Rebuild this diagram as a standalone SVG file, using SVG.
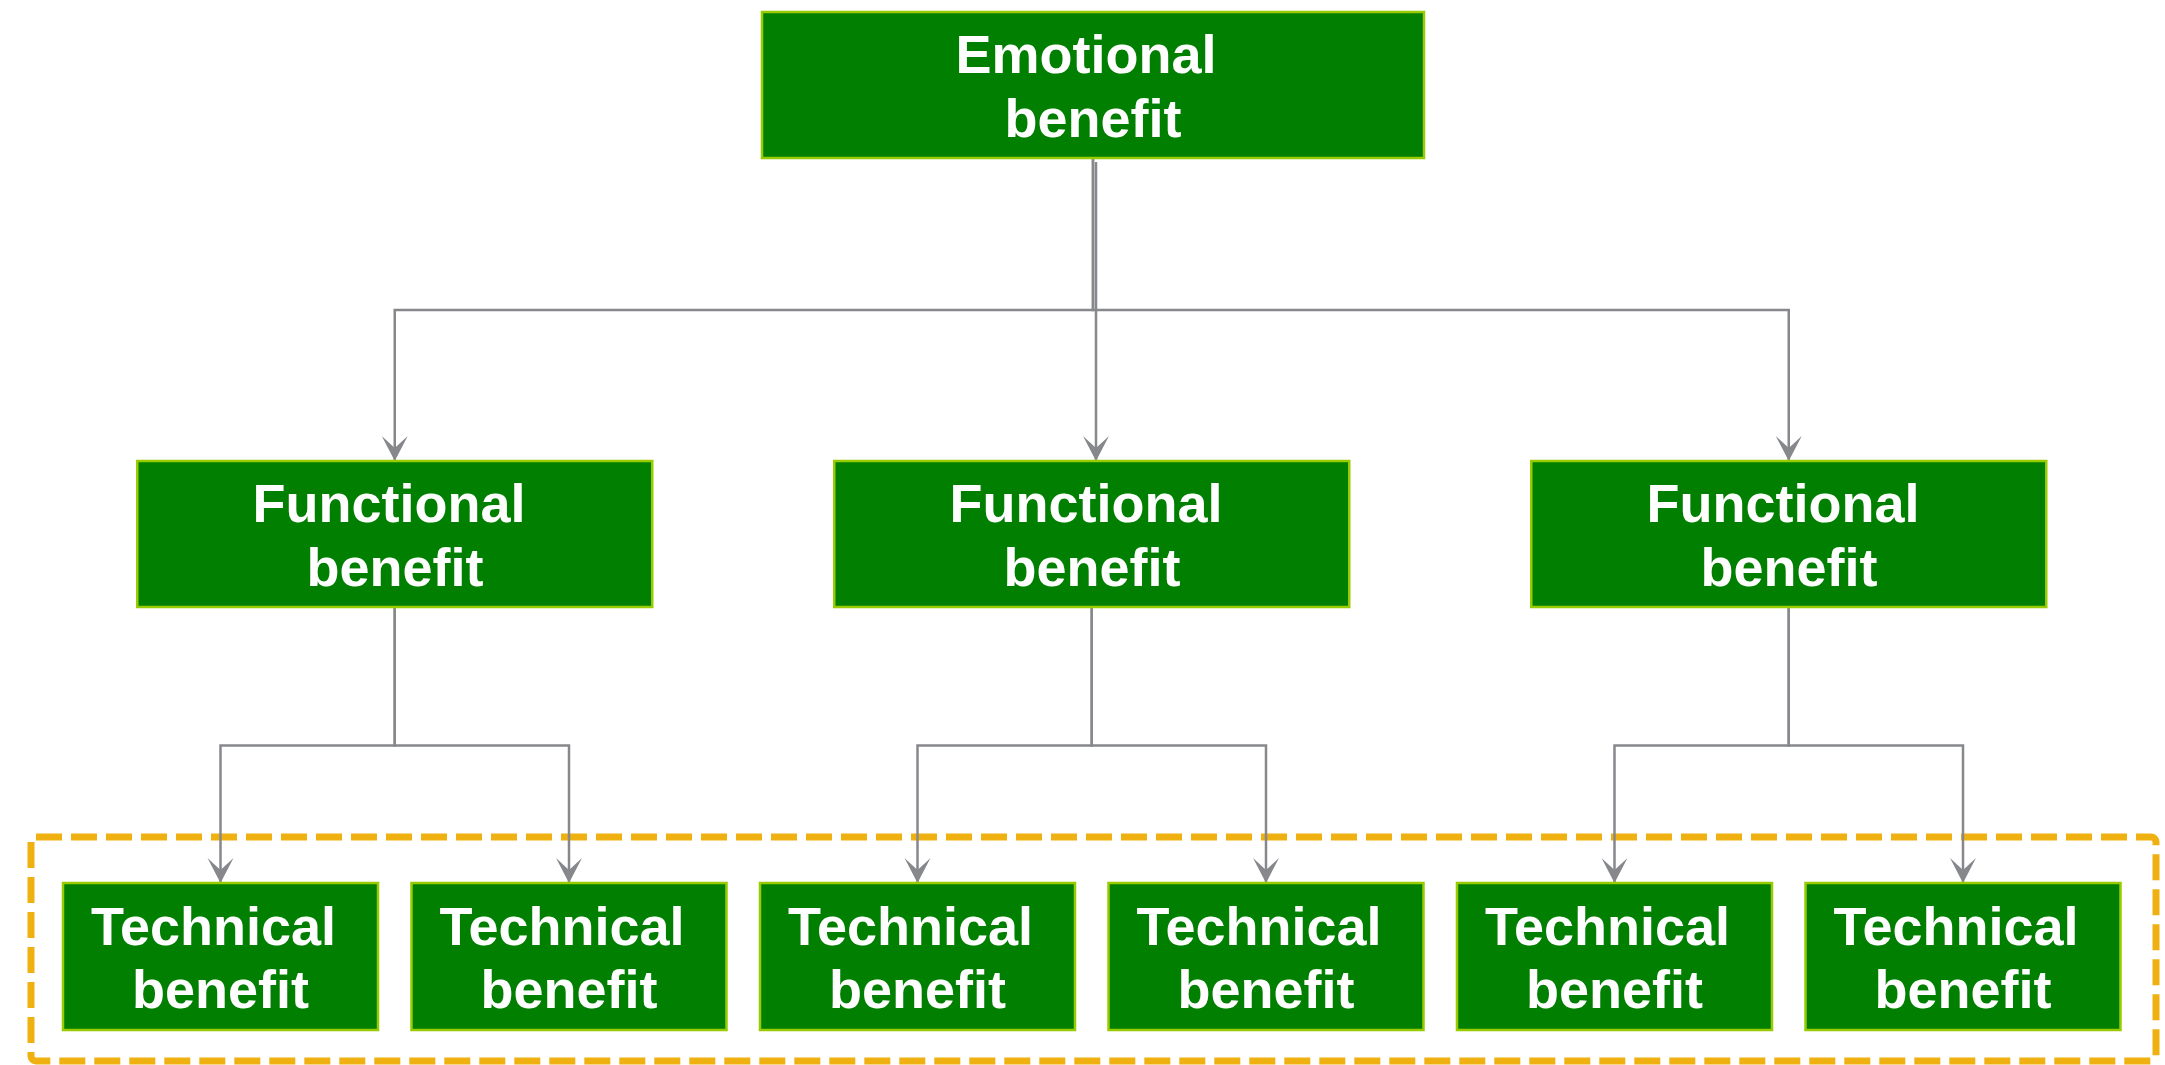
<svg xmlns="http://www.w3.org/2000/svg" width="2165" height="1065" viewBox="0 0 2165 1065">
  <style>
    .box { fill: #007f00; stroke: #99cc00; stroke-width: 2.5; }
    .lbl { fill: #ffffff; font-family: "Liberation Sans", Arial, sans-serif; font-weight: bold; font-size: 54px; text-anchor: middle; }
    .link { fill: none; stroke: #87888c; stroke-width: 2.5; }
    .group { fill: none; stroke: #eeb111; stroke-width: 7; stroke-dasharray: 26 9; }
  </style>
  <defs>
    <!-- barbed arrowhead, tip at the end of the path -->
    <marker id="arrow" markerUnits="userSpaceOnUse" markerWidth="30" markerHeight="30" viewBox="-27 -15 30 30" refX="0" refY="0" orient="auto">
      <path d="M0 0 L-25 -13 L-13 0 L-25 13 Z" fill="#87888c"/>
    </marker>
  </defs>

  <!-- dashed frame around the technical level -->
  <rect class="group" x="31" y="837" width="2125" height="224" rx="5"/>

  <!-- connectors -->
  <g id="connectors">
    <path class="link" d="M1093 158 V310 H394.75 V461" marker-end="url(#arrow)"/>
    <path class="link" d="M1093 158 V310 H1788.75 V461" marker-end="url(#arrow)"/>
    <path class="link" d="M1096 162 V461" marker-end="url(#arrow)"/>

    <path class="link" d="M394.75 607 V745.5 H220.5 V883" marker-end="url(#arrow)"/>
    <path class="link" d="M394.75 607 V745.5 H569 V883" marker-end="url(#arrow)"/>
    <path class="link" d="M1091.75 607 V745.5 H917.5 V883" marker-end="url(#arrow)"/>
    <path class="link" d="M1091.75 607 V745.5 H1266 V883" marker-end="url(#arrow)"/>
    <path class="link" d="M1788.75 607 V745.5 H1614.5 V883" marker-end="url(#arrow)"/>
    <path class="link" d="M1788.75 607 V745.5 H1963 V883" marker-end="url(#arrow)"/>
  </g>

  <!-- top level -->
  <g id="emotional">
    <rect class="box" x="762" y="12" width="662" height="146"/>
    <text class="lbl" x="1086" y="73">Emotional</text>
    <text class="lbl" x="1093" y="137">benefit</text>
  </g>

  <!-- middle level -->
  <g id="functional-1">
    <rect class="box" x="137.25" y="461" width="515" height="146"/>
    <text class="lbl" x="389" y="522">Functional</text>
    <text class="lbl" x="395" y="586">benefit</text>
  </g>
  <g id="functional-2">
    <rect class="box" x="834.25" y="461" width="515" height="146"/>
    <text class="lbl" x="1086" y="522">Functional</text>
    <text class="lbl" x="1092" y="586">benefit</text>
  </g>
  <g id="functional-3">
    <rect class="box" x="1531.25" y="461" width="515" height="146"/>
    <text class="lbl" x="1783" y="522">Functional</text>
    <text class="lbl" x="1789" y="586">benefit</text>
  </g>

  <!-- bottom level -->
  <g id="technical-1">
    <rect class="box" x="63" y="883" width="315" height="147"/>
    <text class="lbl" x="213.5" y="945">Technical</text>
    <text class="lbl" x="220.5" y="1008">benefit</text>
  </g>
  <g id="technical-2">
    <rect class="box" x="411.5" y="883" width="315" height="147"/>
    <text class="lbl" x="562" y="945">Technical</text>
    <text class="lbl" x="569" y="1008">benefit</text>
  </g>
  <g id="technical-3">
    <rect class="box" x="760" y="883" width="315" height="147"/>
    <text class="lbl" x="910.5" y="945">Technical</text>
    <text class="lbl" x="917.5" y="1008">benefit</text>
  </g>
  <g id="technical-4">
    <rect class="box" x="1108.5" y="883" width="315" height="147"/>
    <text class="lbl" x="1259" y="945">Technical</text>
    <text class="lbl" x="1266" y="1008">benefit</text>
  </g>
  <g id="technical-5">
    <rect class="box" x="1457" y="883" width="315" height="147"/>
    <text class="lbl" x="1607.5" y="945">Technical</text>
    <text class="lbl" x="1614.5" y="1008">benefit</text>
  </g>
  <g id="technical-6">
    <rect class="box" x="1805.5" y="883" width="315" height="147"/>
    <text class="lbl" x="1956" y="945">Technical</text>
    <text class="lbl" x="1963" y="1008">benefit</text>
  </g>
</svg>
